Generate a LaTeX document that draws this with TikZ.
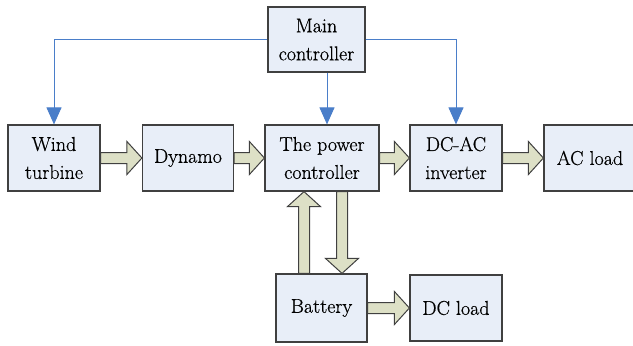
\documentclass[tikz,border=0pt]{standalone}
\usepackage{fontspec}
\newfontfamily\boxfont{Latin Modern Roman}[BoldFont=Latin Modern Roman, BoldFeatures={FakeBold=0.6}]
\usepackage{tikz}
\usetikzlibrary{arrows.meta, calc}
\definecolor{boxcol}{HTML}{E8EEF8}
\definecolor{edgecol}{HTML}{404040}
\definecolor{flowcol}{HTML}{DDE0C6}
\definecolor{ctrlcol}{HTML}{4A7EC9}

\begin{document}
\begin{tikzpicture}[
  x=1pt, y=-1pt,
  block/.style={
    draw=edgecol, fill=boxcol, line width=1.2pt, minimum width=92pt, minimum height=66pt,
    align=center, font=\boxfont\bfseries\fontsize{20}{28}\selectfont, inner sep=0pt
  },
  ctrl/.style={-{Triangle[length=17pt, width=15pt]}, ctrlcol, line width=1pt},
  fat/.style={
    draw=edgecol, fill=flowcol, line width=1pt, line join=miter,
    to path={
      ($(\tikztostart)!5.5pt!90:(\tikztotarget)$)
      -- ($(\tikztotarget)!15pt!(\tikztostart)!5.5pt!90:(\tikztotarget)$)
      -- ($(\tikztotarget)!15pt!(\tikztostart)!16.5pt!90:(\tikztotarget)$)
      -- (\tikztotarget)
      -- ($(\tikztotarget)!15pt!(\tikztostart)!16.5pt!-90:(\tikztotarget)$)
      -- ($(\tikztotarget)!15pt!(\tikztostart)!5.5pt!-90:(\tikztotarget)$)
      -- ($(\tikztostart)!5.5pt!-90:(\tikztotarget)$) -- cycle
    }
  }
]
\useasboundingbox (0,0) rectangle (633,346);

% ============ controller on top ============
\node[block, minimum width=97pt, minimum height=65pt] (main) at (316.5,39.5) {Main\\controller};

% ============ main row ============
\node[block] (wind) at (54,158) {Wind\\turbine};
\node[block, minimum width=91pt] (dyn) at (188,158) {Dynamo};
\node[block, minimum width=114pt] (pc) at (322,158) {The power\\controller};
\node[block] (inv) at (456,158) {DC-AC\\inverter};
\node[block] (ac) at (590,158) {AC load};

% ============ storage row ============
\node[block, minimum width=91pt, minimum height=68pt] (bat) at (321.5,308) {Battery};
\node[block] (dc) at (456,308) {DC load};

% control signals
\draw[ctrl] (main.west) -| (wind.north);
\draw[ctrl] (main.east) -| (inv.north);
\draw[ctrl] ([xshift=10.5pt]main.south) -- ([xshift=5pt]pc.north);

% power flow
\draw[fat] (wind.east) to (dyn.west);
\draw[fat] (dyn.east) to (pc.west);
\draw[fat] (pc.east) to (inv.west);
\draw[fat] (inv.east) to (ac.west);
\draw[fat] (bat.east) to (dc.west);
\draw[fat] ([xshift=-17.5pt]bat.north) to ([xshift=-18pt]pc.south);
\draw[fat] ([xshift=20pt]pc.south) to ([xshift=20.5pt]bat.north);

\end{tikzpicture}
\end{document}
